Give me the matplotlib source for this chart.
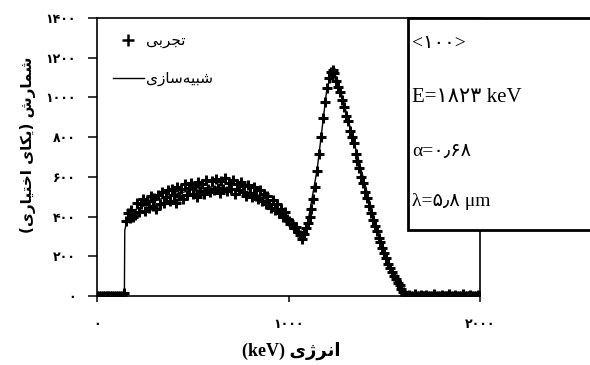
import numpy as np
import matplotlib
matplotlib.use("Agg")
import matplotlib.pyplot as plt
from matplotlib.patches import Rectangle
from matplotlib.lines import Line2D

# ---------------- data ----------------
# experimental spectrum, energies every 10 keV from 0 to 2000 keV
exp_energy = np.arange(0, 2001, 10)
exp_counts = [
    0, 0, 0, 0, 0, 0, 0, 0, 0, 0,
    0, 0, 0, 0, 15, 380, 418, 392, 435, 400,
    410, 470, 425, 462, 490, 430, 478, 445, 505, 455,
    492, 440, 510, 462, 522, 470, 500, 532, 478, 540,
    510, 470, 548, 505, 538, 488, 562, 510, 545, 570,
    515, 556, 498, 575, 530, 566, 512, 582, 540, 522,
    578, 532, 590, 545, 518, 580, 540, 595, 528, 568,
    538, 585, 512, 565, 532, 575, 522, 555, 505, 560,
    520, 498, 548, 505, 488, 532, 480, 515, 465, 502,
    462, 445, 482, 432, 462, 418, 440, 400, 422, 388,
    380, 362, 370, 340, 345, 322, 305, 285, 310, 340,
    370, 400, 440, 490, 550, 630, 715, 800, 895, 975,
    1050, 1100, 1130, 1140, 1125, 1085, 1055, 1025, 985, 950,
    905, 880, 830, 800, 770, 715, 680, 645, 600, 570,
    525, 495, 455, 420, 385, 355, 325, 290, 270, 240,
    215, 190, 160, 140, 120, 100, 85, 65, 55, 35,
    20, 5, 0, 5, 0, 0, 8, 0, 0, 5,
    0, 0, 5, 0, 0, 0, 8, 0, 0, 0,
    5, 0, 0, 0, 10, 0, 0, 5, 0, 0,
    0, 8, 0, 0, 0, 5, 0, 0, 0, 5,
    0,
]

# simulated spectrum
sim_energy = [0, 143, 145, 160, 200, 300, 400, 500, 600, 700, 800, 900, 1000,
              1050, 1075, 1100, 1150, 1200, 1230, 1260, 1300, 1350, 1400, 1450,
              1500, 1550, 1600, 1620, 2000]
sim_counts = [0, 0, 330, 400, 435, 478, 510, 535, 550, 542, 510, 455, 375,
              322, 288, 365, 640, 1040, 1140, 1080, 930, 745, 560, 380,
              230, 105, 20, 0, 0]

y_ticks = [0, 200, 400, 600, 800, 1000, 1200, 1400]
x_ticks = [0, 1000, 2000]

PERSIAN = str.maketrans("0123456789", "\u06F0\u06F1\u06F2\u06F3\u06F4\u06F5\u06F6\u06F7\u06F8\u06F9")
def fa(n):
    return str(n).translate(PERSIAN)

# Arabic-script texts written in visual (shaped, left-to-right) order
lbl_exp = "\uFEF0\uFE91\uFEAE\uFEA0\uFE97"                       # تجربی
lbl_sim = "\u06CC\u0632\uFE8E\uFEB3\uFEEA\uFEF4\uFE92\uFEB7"      # شبیه‌سازی
y_label = ("(" + "\u06CC\u0631\uFE8E\uFEF4\uFE98\uFEA7\u0627" + " "
           + "\u06CC\uFE8E\uFEDC\uFEF3" + ")" + " "
           + "\u0634\u0631\uFE8E\uFEE4\uFEB7")                   # شمارش (یکای اختیاری)
x_label = "(keV) " + "\u06CC\u0698\uFEAE\uFEE7\u0627"            # انرژی (keV)

box_lines = ["<" + fa(100) + ">",
             "E=" + fa(1823) + " keV",
             "\u03B1=" + fa(0) + "\u066B" + fa(68),
             "\u03BB=" + fa(5) + "\u066B" + fa(8) + " \u03BCm"]

# ---------------- figure ----------------
W, H = 590, 365
fig = plt.figure(figsize=(W / 100, H / 100), dpi=100)
ax = fig.add_axes([97 / W, (H - 296) / H, (480 - 97) / W, (296 - 18) / H])

ax.plot(exp_energy, exp_counts, linestyle="none", marker="+", color="black",
        markersize=7, markeredgewidth=2.2, zorder=3)
ax.plot(sim_energy, sim_counts, color="black", linewidth=1.0, zorder=4)

ax.set_xlim(0, 2000)
ax.set_ylim(0, 1400)
ax.set_xticks(x_ticks)
ax.set_yticks(y_ticks)
ax.set_xticklabels([fa(v) for v in x_ticks])
ax.set_yticklabels([fa(v) for v in y_ticks])
for lab in ax.get_xticklabels() + ax.get_yticklabels():
    lab.set_fontfamily("DejaVu Sans")
    lab.set_fontweight("bold")
    lab.set_fontsize(9)
ax.tick_params(axis="y", direction="out", length=6.5, width=1.1, pad=9)
ax.tick_params(axis="x", direction="out", length=4.5, width=1.1, pad=11)
for sp in ax.spines.values():
    sp.set_linewidth(1.2)

handles = [Line2D([], [], linestyle="none", marker="+", color="black",
                  markersize=9, markeredgewidth=1.8),
           Line2D([], [], color="black", linewidth=1.0)]
leg = fig.legend(handles, [lbl_exp, lbl_sim], loc="upper left",
                 bbox_to_anchor=(113 / W, (H - 33) / H), frameon=False,
                 prop={"family": "DejaVu Sans", "size": 11},
                 handlelength=2.0, handletextpad=0.15, labelspacing=1.5,
                 borderpad=0, borderaxespad=0)

fig.text(28 / W, (H - 145) / H, y_label, rotation=90, ha="center", va="center",
         family="DejaVu Sans", fontweight="bold", fontsize=11)
fig.text(291 / W, (H - 351) / H, x_label, ha="center", va="center",
         family=["Liberation Serif", "DejaVu Sans"], fontweight="bold", fontsize=13)

box = Rectangle((408 / W, (H - 230) / H), 0.5, (230 - 18) / H,
                transform=fig.transFigure, facecolor="white", edgecolor="black",
                linewidth=2.0, zorder=10)
fig.add_artist(box)
box_y = [43, 97, 152, 202]
box_size = [14, 15, 14, 14]
for txt, yy, fs in zip(box_lines, box_y, box_size):
    fig.text(412 / W, (H - yy) / H, txt, ha="left", va="center",
             family=["Liberation Serif", "DejaVu Sans"], fontsize=fs, zorder=11)

fig.savefig("out.png", dpi=100)
